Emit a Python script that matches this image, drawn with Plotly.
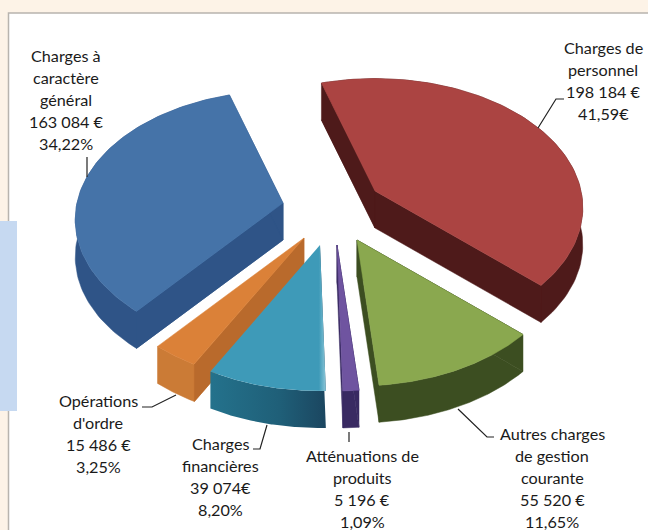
import numpy as np
import plotly.graph_objects as go

# ---- data ----
categories = ["Charges de personnel", "Autres charges de gestion courante", "Atténuations de produits",
              "Charges financières", "Opérations d'ordre", "Charges à caractère général"]
values = [198184, 55520, 5196, 39074, 15486, 163084]
label_lines = [
    ["Charges de", "personnel", "198 184 €", "41,59€"],
    ["Autres charges", "de gestion", "courante", "55 520 €", "11,65%"],
    ["Atténuations de", "produits", "5 196 €", "1,09%"],
    ["Charges", "financières", "39 074€", "8,20%"],
    ["Opérations", "d'ordre", "15 486 €", "3,25%"],
    ["Charges à", "caractère", "général", "163 084 €", "34,22%"],
]

# ---- styling and pie geometry ----
top_colors = ["#AB4442", "#8AA84F", "#6F54A0", "#3E9AB8", "#DB8138", "#4573A8"]
wall_colors = ["#4E1A1A", "#3C4E21", "#392A62", "#1F5F78", "#B96A2C", "#2F5487"]
shell_colors = ["#4E1A1A", "#3C4E21", "#392A62", "#1F5F78", "#CB7B36", "#2F5487"]
apexes = [(375, 191), (357, 240), (337, 245), (320, 245), (304, 238), (283, 203)]
label_pos = [(603, 47.5), (552, 433.5), (362, 455.5), (220, 443.5), (98, 400.5), (66, 55.5)]
leaders = [
    [(538, 128), (556, 99), (564, 99)],
    [(458, 409), (487, 437), (494, 437)],
    [(349, 432), (349, 442)],
    [(253, 449), (260, 449), (267, 425)],
    [(142, 407), (152, 407), (176, 395)],
    [(87, 157), (87, 177)],
]
START_DEG, RX, RY, PERSP, DEPTH, LINE_H = -17.0, 206.0, 127.0, 0.13, 37.0, 22.0
DRAW_ORDER = [0, 5, 4, 3, 1, 2]
TEAL, ORANGE = 3, 4


def rim(apex, a0, a1):
    th = np.radians(np.linspace(a0, a1, 90))
    u, v = np.sin(th), np.cos(th)
    s = 1 / (1 + PERSP * v)
    return apex[0] + RX * u * s, apex[1] - RY * v * s


def closed(xs, ys):
    return list(xs) + [xs[0]], list(ys) + [ys[0]]


angles = START_DEG + np.concatenate([[0], np.cumsum(values)]) / sum(values) * 360.0

fig = go.Figure()
for i in DRAW_ORDER:
    ax, ay = apexes[i]
    rx, ry = rim(apexes[i], angles[i], angles[i + 1])
    # outer shell of the extruded wedge
    wx = [ax] + list(rx) + list(rx[::-1]) + [ax]
    wy = [ay] + list(ry) + list((ry + DEPTH)[::-1]) + [ay + DEPTH]
    wx, wy = closed(wx, wy)
    shell = dict(x=wx, y=wy, mode="lines", fill="toself", fillcolor=shell_colors[i],
                 line=dict(color=shell_colors[i], width=0.5), hoverinfo="skip")
    if i == TEAL:
        shell["fillgradient"] = dict(type="horizontal",
                                     colorscale=[[0, "#24728C"], [0.6, "#1F5F78"], [1, "#1B4660"]])
        shell["line"] = dict(width=0)
    fig.add_trace(go.Scatter(**shell))
    # radial walls, to span the corner at the apex
    for r in (0, -1):
        if i == TEAL or (i == ORANGE and r == -1):
            continue
        qx, qy = closed([ax, rx[r], rx[r], ax], [ay, ry[r], ry[r] + DEPTH, ay + DEPTH])
        fig.add_trace(go.Scatter(x=qx, y=qy, mode="lines", fill="toself", fillcolor=wall_colors[i],
                                 line=dict(color=wall_colors[i], width=0.5), hoverinfo="skip"))
    tx, ty = closed([ax] + list(rx), [ay] + list(ry))
    top = dict(x=tx, y=ty, mode="lines", fill="toself", fillcolor=top_colors[i],
               line=dict(color=top_colors[i], width=0.5), name=categories[i], hoverinfo="name")
    if i == TEAL:
        top["fillgradient"] = dict(type="horizontal",
                                   colorscale=[[0, "#3E9AB8"], [0.94, "#3E9AB8"], [1, "#8CC6D8"]])
        top["line"] = dict(width=0)
    fig.add_trace(go.Scatter(**top))

for pts in leaders:
    fig.add_trace(go.Scatter(x=[p[0] for p in pts], y=[p[1] for p in pts], mode="lines",
                             line=dict(color="#222222", width=1.2), hoverinfo="skip"))

annotations = []
for (cx, y0), lines in zip(label_pos, label_lines):
    for k, line in enumerate(lines):
        annotations.append(dict(x=cx, y=y0 + k * LINE_H, text=line, showarrow=False,
                                xanchor="center", yanchor="middle", xref="x", yref="y",
                                font=dict(family="Lato", size=16.2, color="#1a1a1a")))

shapes = [
    dict(type="rect", x0=8.5, y0=13, x1=660, y1=540, fillcolor="#FFFFFF",
         line=dict(color="#B8B4AE", width=1.5), layer="below"),
    dict(type="rect", x0=0, y0=221, x1=17, y1=411, fillcolor="#C6D9F1", line=dict(width=0), layer="below"),
]

fig.update_layout(
    width=648, height=530, margin=dict(l=0, r=0, t=0, b=0), showlegend=False,
    paper_bgcolor="#FDF3E7", plot_bgcolor="rgba(0,0,0,0)",
    xaxis=dict(range=[0, 648], visible=False, fixedrange=True),
    yaxis=dict(range=[530, 0], visible=False, fixedrange=True),
    annotations=annotations, shapes=shapes,
)
fig.write_html("out.html", config=dict(displayModeBar=False),
               post_script="document.body.style.margin='0';")
